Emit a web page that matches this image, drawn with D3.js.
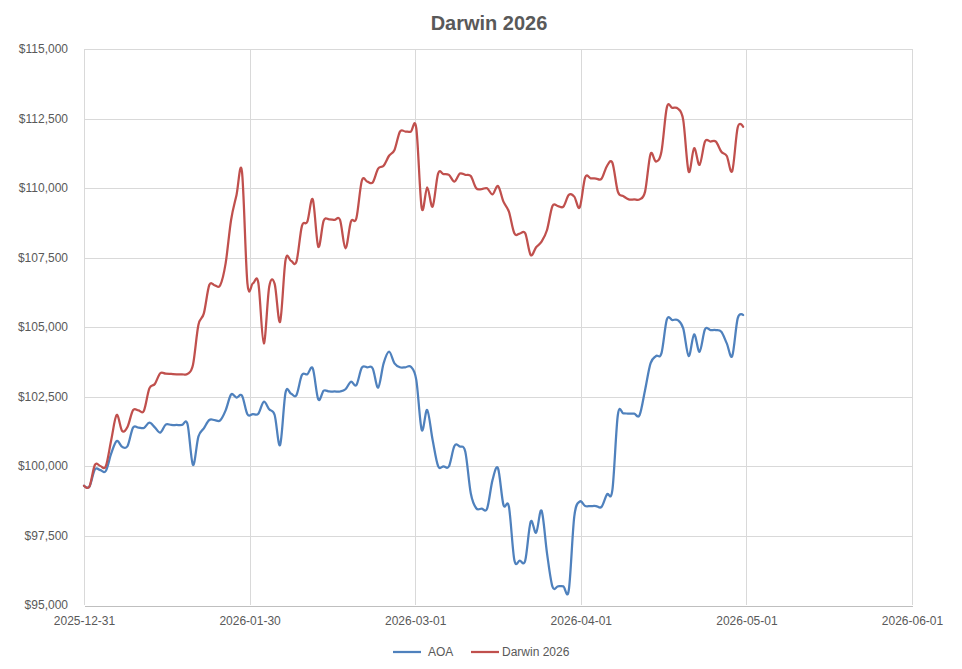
<!DOCTYPE html>
<html>
<head>
  <meta charset="utf-8">
  <title>Darwin 2026</title>
  <style>
    body { margin: 0; background: #fff; }
    .axis path, .axis line { fill: none; }
    .axis text { font-family: "Liberation Sans", Arial, sans-serif; font-size: 12px; fill: #595959; }
    .grid line { stroke: #d9d9d9; stroke-width: 1; shape-rendering: crispEdges; }
    .legend text { font-family: "Liberation Sans", Arial, sans-serif; font-size: 12px; fill: #595959; }
  </style>
  <script src="https://d3js.org/d3.v7.min.js"></script>
</head>
<body>
  <script>
    // daily closes from 2025-12-31 to 2026-05-01
    var startDate = new Date(2025, 11, 31);
    var endDate = new Date(2026, 5, 1);

    var aoa = [
      99290, 99260, 99880, 99850, 99820, 100450, 100900, 100690, 100720, 101380,
      101380, 101370, 101560, 101390, 101200, 101490, 101475, 101475, 101475, 101510,
      100040, 101055, 101355, 101655, 101650, 101640, 102000, 102570, 102460, 102530,
      101860, 101870, 101880, 102310, 102040, 101835, 100755, 102640, 102600, 102550,
      103270, 103300, 103510, 102400, 102710, 102680, 102680, 102680, 102760, 103030,
      102910, 103540, 103550, 103510, 102820, 103690, 104110, 103690, 103550, 103550,
      103570, 103100, 101300, 102015, 100935, 100000, 99990, 99990, 100720, 100700,
      100515, 99020, 98480, 98470, 98470, 99500, 99920, 98600, 98540, 96620,
      96600, 96600, 98000, 97600, 98395, 96860, 95660, 95670, 95670, 95540,
      98180, 98720, 98560, 98560, 98560, 98530, 98980, 99140, 101835, 101895,
      101880, 101880, 101835, 102735, 103690, 103955, 104050, 105275, 105250, 105250,
      104950, 103955, 104735, 104110, 104915, 104890, 104890, 104830, 104410, 103955,
      105310, 105430
    ];

    var darwin = [
      99290, 99260, 100040, 100000, 99990, 100935, 101835, 101260, 101415, 102010,
      102000, 101990, 102790, 102950, 103335, 103320, 103310, 103300, 103300, 103310,
      103630, 105070, 105490, 106510, 106500, 106500, 107290, 108850, 109750, 110590,
      106570, 106570, 106590, 104410, 106450, 106550, 105190, 107410, 107380, 107350,
      108630, 108790, 109590, 107890, 108825, 108870, 108850, 108850, 107830, 108790,
      108910, 110260, 110230, 110200, 110700, 110800, 111160, 111370, 112030, 112030,
      112030, 112150, 109270, 110025, 109330, 110520, 110500, 110470, 110230, 110520,
      110470, 110430, 109990, 109960, 109990, 109770, 110070, 109510, 109150, 108370,
      108360, 108370, 107590, 107870, 108070, 108490, 109350, 109350, 109330, 109750,
      109690, 109300, 110385, 110350, 110340, 110330, 110790, 110910, 109870, 109710,
      109590, 109590, 109590, 109870, 111220, 110950, 111305, 112900, 112880, 112860,
      112450, 110590, 111430, 110830, 111670, 111670, 111670, 111305, 111150, 110610,
      112180, 112205
    ];

    var seriesNames = ['AOA', 'Darwin 2026'];
    var seriesColors = ['#4f81bd', '#c0504d'];
    var yTicks = [95000, 97500, 100000, 102500, 105000, 107500, 110000, 112500, 115000];
    var xTickLabels = ['2025-12-31', '2026-01-30', '2026-03-01', '2026-04-01', '2026-05-01', '2026-06-01'];

    var width = 962, height = 669;
    var plot = {left: 84, right: 912, top: 49, bottom: 605};

    var svg = d3.select('body').append('svg')
      .attr('width', width)
      .attr('height', height);

    var dates = aoa.map(function(d, i) { return d3.timeDay.offset(startDate, i); });

    var x = d3.scaleTime()
      .domain([startDate, endDate])
      .range([plot.left, plot.right]);
    var y = d3.scaleLinear()
      .domain([95000, 115000])
      .range([plot.bottom, plot.top]);

    // excel scatter axis: major unit 30.4 days
    var xTickDates = xTickLabels.map(function(s, i) {
      return new Date(+startDate + i * (endDate - startDate) / (xTickLabels.length - 1));
    });

    // gridlines
    svg.append('g').attr('class', 'grid')
      .selectAll('line').data(yTicks.slice(1)).enter().append('line')
      .attr('x1', plot.left).attr('x2', plot.right)
      .attr('y1', function(d) { return Math.round(y(d)) + 0.5; })
      .attr('y2', function(d) { return Math.round(y(d)) + 0.5; });
    svg.append('g').attr('class', 'grid')
      .selectAll('line').data(xTickDates).enter().append('line')
      .attr('y1', plot.top).attr('y2', plot.bottom)
      .attr('x1', function(d) { return Math.round(x(d)) + 0.5; })
      .attr('x2', function(d) { return Math.round(x(d)) + 0.5; });

    // axes
    var xAxis = d3.axisBottom(x)
      .tickValues(xTickDates)
      .tickSize(0)
      .tickPadding(11)
      .tickFormat(function(d, i) { return xTickLabels[i]; });
    var gx = svg.append('g').attr('class', 'axis')
      .attr('transform', 'translate(0,' + (plot.bottom + 0.5) + ')')
      .call(xAxis);
    gx.select('.domain').attr('stroke', '#bfbfbf').attr('shape-rendering', 'crispEdges');

    var yAxis = d3.axisLeft(y)
      .tickValues(yTicks)
      .tickSize(0)
      .tickPadding(16)
      .tickFormat(function(d) { return '$' + d3.format(',')(d); });
    var gy = svg.append('g').attr('class', 'axis')
      .attr('transform', 'translate(' + plot.left + ',0)')
      .call(yAxis);
    gy.select('.domain').remove();

    // lines (smoothed like excel)
    var line = d3.line()
      .x(function(d) { return x(d[0]); })
      .y(function(d) { return y(d[1]); })
      .curve(d3.curveCatmullRom.alpha(0));

    [aoa, darwin].forEach(function(vals, k) {
      svg.append('path')
        .datum(vals.map(function(v, i) { return [dates[i], v]; }))
        .attr('fill', 'none')
        .attr('stroke', seriesColors[k])
        .attr('stroke-width', 2.25)
        .attr('stroke-linejoin', 'round')
        .attr('stroke-linecap', 'round')
        .attr('d', line);
    });

    // title
    svg.append('text')
      .attr('x', 489)
      .attr('y', 30)
      .attr('text-anchor', 'middle')
      .style('font-family', '"Liberation Sans", Arial, sans-serif')
      .style('font-size', '20px')
      .style('font-weight', 'bold')
      .style('fill', '#595959')
      .text('Darwin 2026');

    // legend
    var legendX = [393, 471];
    var legend = svg.append('g').attr('class', 'legend');
    seriesNames.forEach(function(name, k) {
      legend.append('line')
        .attr('x1', legendX[k]).attr('x2', legendX[k] + 28)
        .attr('y1', 652).attr('y2', 652)
        .attr('stroke', seriesColors[k])
        .attr('stroke-width', 2.25);
      legend.append('text')
        .attr('x', legendX[k] + (k === 0 ? 35 : 31))
        .attr('y', 656)
        .text(name);
    });
  </script>
</body>
</html>
